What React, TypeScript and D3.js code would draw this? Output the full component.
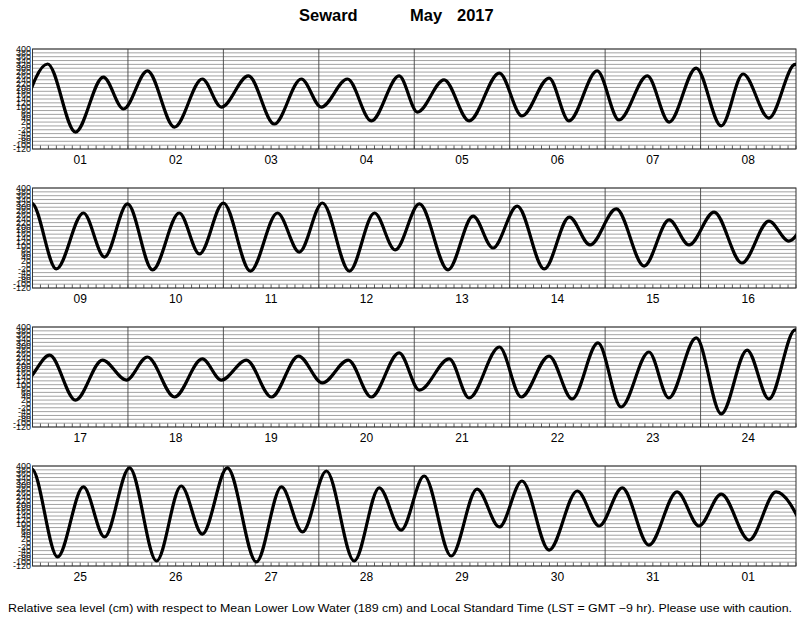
import React from 'react';
import * as d3 from 'd3';

// tide extremes: hours since 1 May 00:00 LST, level in cm
const tideHours = [
  -2, 3.8, 10.8, 17.8, 22.9, 28.9, 35.7, 42.7, 47.5, 54.3, 60.8, 67.6, 72.6, 79.2, 85.2, 92.2,
  96.8, 103.5, 109.8, 117.4, 123.1, 129.9, 134.9, 142, 147.5, 154.6, 160.1, 166.9, 173.2, 178.7, 185.2,
  191.8, 198, 204.8, 210.1, 215.9, 222.2, 228.9, 234, 240, 246.8, 253.6, 259.1, 264.9, 271.7, 278,
  283.2, 289.3, 296.5, 302.8, 307.8, 313.9, 320.7, 327, 332.2, 338.8, 345.8, 352.1, 357.1, 363.4, 370.4,
  377.2, 382.2, 388.3, 394.8, 401.6, 407.6, 412.9, 419.7, 426.7, 431.5, 437.8, 444.1, 450.9, 456.9,
  463.4, 469.2, 476.2, 481.3, 488.8, 493.8, 501.4, 506.9, 513.9, 519.7, 526.2, 532, 539, 544, 550.9,
  557.2, 563.7, 569.2, 575.8, 582.3, 588.8, 594.1, 600.4, 607.2, 613.4, 618.7, 625, 632.3, 638.6,
  643.9, 649.9, 656.9, 663.2, 668.7, 674.5, 681.3, 687.8, 693.4, 699.1, 705.9, 713, 718.5, 724.3,
  731, 738.1, 743.6, 749.2, 756.2, 763, 770,
];
const tideLevels = [
  100, 322, -32, 254, 88, 286, -6, 244, 98, 260, 10, 244, 98, 244, 26, 260,
  72, 239, 26, 275, 52, 249, 26, 286, 31, 260, 20, 301, 0, 270, 41,
  320, -21, 270, 41, 317, -26, 270, 57, 322, -32, 270, 67, 322, -32, 270,
  78, 317, -26, 254, 88, 306, -21, 249, 104, 291, -6, 234, 104, 275, 10,
  228, 124, 254, 20, 228, 124, 244, 36, 234, 124, 228, 36, 249, 109,
  228, 36, 265, 72, 234, 31, 296, 36, 249, 26, 317, -16, 270, 31, 343,
  -52, 280, 26, 385, -73, 291, 31, 390, -94, 296, 46, 390, -99, 291,
  57, 374, -94, 286, 67, 348, -68, 280, 83, 322, -37, 270, 88, 286,
  -11, 265, 88, 254, 15, 265, 70,
];

const dayLabels = [
  ['01', '02', '03', '04', '05', '06', '07', '08'],
  ['09', '10', '11', '12', '13', '14', '15', '16'],
  ['17', '18', '19', '20', '21', '22', '23', '24'],
  ['25', '26', '27', '28', '29', '30', '31', '01'],
];
const levelTicks = [400, 380, 360, 340, 320, 300, 280, 260, 240, 220, 200, 180, 160, 140, 120, 100, 80, 60, 40, 20, 0, -20, -40, -60, -80, -100, -120];

const W = 800;
const H = 618;
const left = 32.5;
const right = 796;
const panelTop = [49, 188, 327, 466];
const panelH = 100;
const hoursPerPanel = 192;

const font = '"Liberation Sans", Arial, Helvetica, sans-serif';

const tide = tideHours.map((h, i) => ({ h, v: tideLevels[i] }));

function Panel({ index }: { index: number }) {
  const top = panelTop[index];
  const bottom = top + panelH;
  const t0 = index * hoursPerPanel;
  const x = d3.scaleLinear().domain([t0, t0 + hoursPerPanel]).range([left, right]);
  const y = d3.scaleLinear().domain([-120, 400]).range([bottom, top]);
  const line = d3.line<{ h: number; v: number }>()
    .x(d => x(d.h))
    .y(d => y(d.v))
    .curve(d3.curveMonotoneX);
  const pts = tide.filter(d => d.h >= t0 - 12 && d.h <= t0 + hoursPerPanel + 12);
  const hourTicks = d3.range(t0, t0 + hoursPerPanel + 1, 2);
  const dayStarts = d3.range(t0 + 24, t0 + hoursPerPanel, 24);
  const clipId = `clip-${index}`;

  return (
    <g>
      <defs>
        <clipPath id={clipId}>
          <rect x={left} y={top} width={right - left} height={panelH} />
        </clipPath>
      </defs>
      {levelTicks.map(v => (
        <line key={v} x1={left} x2={right} y1={y(v)} y2={y(v)} stroke="#8a8a8a" strokeWidth={0.8} />
      ))}
      {dayStarts.map(h => (
        <line key={h} x1={x(h)} x2={x(h)} y1={top} y2={bottom} stroke="#444" strokeWidth={0.9} />
      ))}
      {hourTicks.map(h => (
        <line key={h} x1={x(h)} x2={x(h)} y1={bottom} y2={bottom - 3.5} stroke="#333" strokeWidth={0.8} />
      ))}
      <rect x={left} y={top} width={right - left} height={panelH} fill="none" stroke="#333" strokeWidth={1} />
      <path d={line(pts) || ''} fill="none" stroke="#000" strokeWidth={3.2} clipPath={`url(#${clipId})`} />
      {levelTicks.map(v => (
        <text key={v} x={left - 1.5} y={y(v)} dy="0.35em" textAnchor="end" fontSize={9} fontFamily={font} fill="#111">
          {v}
        </text>
      ))}
      {dayLabels[index].map((d, i) => (
        <text key={i} x={x(t0 + i * 24 + 12)} y={bottom + 15} textAnchor="middle" fontSize={12} fontFamily={font} fill="#000">
          {d}
        </text>
      ))}
    </g>
  );
}

export default function App() {
  return (
    <svg width={W} height={H} style={{ position: 'absolute', left: 0, top: 0, background: '#fff' }}>
      <rect width={W} height={H} fill="#fff" />
      <text x={299} y={21} fontSize={16.5} fontWeight="bold" fontFamily={font}>Seward</text>
      <text x={410} y={21} fontSize={16.5} fontWeight="bold" fontFamily={font}>May</text>
      <text x={457} y={21} fontSize={16.5} fontWeight="bold" fontFamily={font}>2017</text>
      {panelTop.map((_, i) => <Panel key={i} index={i} />)}
      <text x={8} y={612} fontSize={11} fontFamily={font} textLength={784} lengthAdjust="spacingAndGlyphs">
        Relative sea level (cm) with respect to Mean Lower Low Water (189 cm) and Local Standard Time (LST = GMT −9 hr). Please use with caution.
      </text>
    </svg>
  );
}
